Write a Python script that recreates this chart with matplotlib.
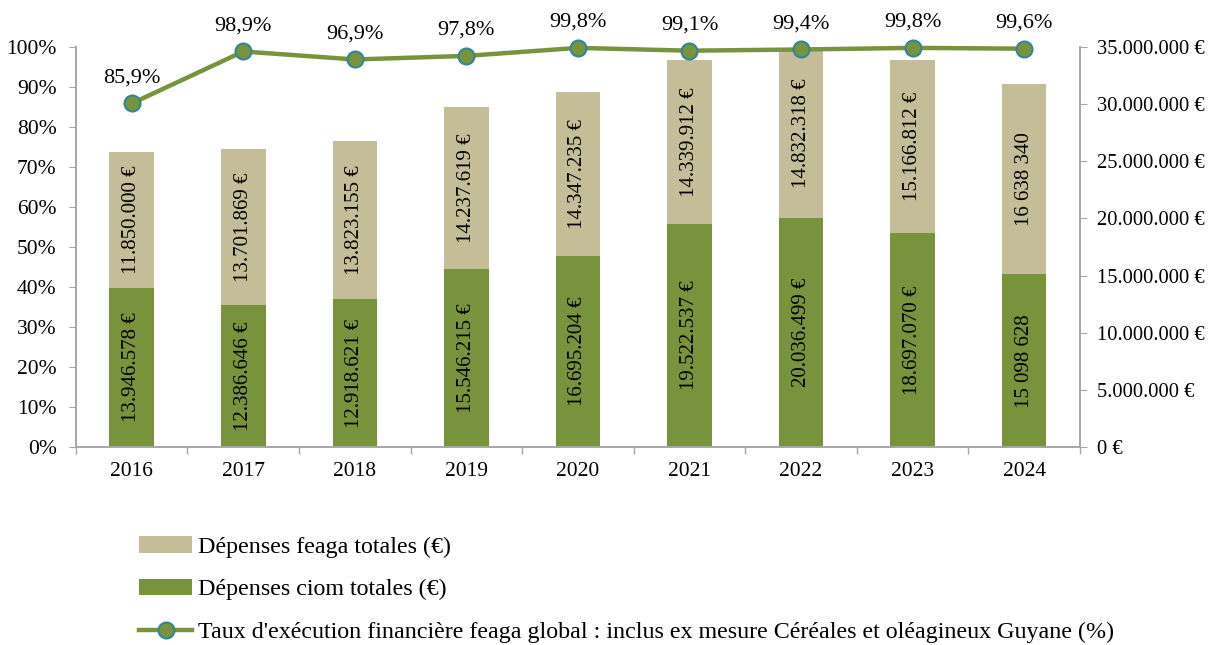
import matplotlib
matplotlib.use("Agg")
import matplotlib.pyplot as plt
from matplotlib.ticker import FuncFormatter, FixedLocator, NullFormatter

plt.rcParams['font.family'] = ['Liberation Serif', 'DejaVu Serif']

# Data
years = ['2016', '2017', '2018', '2019', '2020', '2021', '2022', '2023', '2024']
ciom = [13946578, 12386646, 12918621, 15546215, 16695204, 19522537, 20036499, 18697070, 15098628]
feaga = [11850000, 13701869, 13823155, 14237619, 14347235, 14339912, 14832318, 15166812, 16638340]
ciom_labels = ['13.946.578 €', '12.386.646 €', '12.918.621 €', '15.546.215 €', '16.695.204 €',
               '19.522.537 €', '20.036.499 €', '18.697.070 €', '15 098 628']
feaga_labels = ['11.850.000 €', '13.701.869 €', '13.823.155 €', '14.237.619 €', '14.347.235 €',
                '14.339.912 €', '14.832.318 €', '15.166.812 €', '16 638 340']
taux = [85.9, 98.9, 96.9, 97.8, 99.8, 99.1, 99.4, 99.8, 99.6]

green = '#77933C'
tan = '#C4BD97'
grey = '#A6A6A6'

fig = plt.figure(figsize=(12.23, 6.45), dpi=100)
ax = fig.add_axes([0.0621, 0.307, 0.8209, 0.620])
ax2 = ax.twinx()

x = list(range(len(years)))

# Bars on the secondary (euro) axis
b1 = ax2.bar(x, ciom, width=0.40, color=green, label='Dépenses ciom totales (€)', zorder=2)
b2 = ax2.bar(x, feaga, width=0.40, bottom=ciom, color=tan, label='Dépenses feaga totales (€)', zorder=2)
for i in x:
    ax2.text(i, ciom[i] / 2, ciom_labels[i], rotation=90, ha='center', va='center', fontsize=15)
    ax2.text(i, ciom[i] + feaga[i] / 2, feaga_labels[i], rotation=90, ha='center', va='center', fontsize=15)
ax2.set_ylim(0, 35000000)
ax2.yaxis.set_major_locator(FixedLocator(range(0, 35000001, 5000000)))
ax2.yaxis.set_major_formatter(FuncFormatter(lambda v, p: '{:,.0f} €'.format(v).replace(',', '.')))

# Line on the primary (%) axis, drawn above the bars
ax.set_zorder(ax2.get_zorder() + 1)
ax.patch.set_visible(False)
ln, = ax.plot(x, taux, color=green, lw=3.2, marker='o', markersize=11.5,
              markerfacecolor=green, markeredgecolor='#31859C', markeredgewidth=1.5,
              label="Taux d'exécution financière feaga global : inclus ex mesure Céréales et oléagineux Guyane (%)",
              zorder=5, clip_on=False)
for i in x:
    ax.text(i, taux[i] + 4.0, '{:.1f}%'.format(taux[i]).replace('.', ','), ha='center', va='bottom', fontsize=16)
ax.set_ylim(0, 100)
ax.yaxis.set_major_locator(FixedLocator(range(0, 101, 10)))
ax.yaxis.set_major_formatter(FuncFormatter(lambda v, p: '{:.0f}%'.format(v)))

ax.set_xlim(-0.5, len(years) - 0.5)
ax.set_xticks(x)
ax.set_xticklabels(years)
ax.set_xticks([i - 0.5 for i in range(len(years) + 1)], minor=True)
ax.tick_params(axis='x', which='major', length=0, labelsize=15.5, pad=11)
ax.tick_params(axis='x', which='minor', length=5, color=grey, width=1)
ax.xaxis.set_minor_formatter(NullFormatter())
ax.tick_params(axis='y', length=5, color=grey, labelsize=15.5, pad=9)
ax2.tick_params(axis='y', length=5, color=grey, labelsize=14.8, pad=7)

for a in (ax, ax2):
    a.spines['top'].set_visible(False)
    for s in ('left', 'right', 'bottom'):
        a.spines[s].set_color(grey)
        a.spines[s].set_linewidth(1.2)

fig.legend([b2, b1, ln], [b2.get_label(), b1.get_label(), ln.get_label()],
           loc='upper left', bbox_to_anchor=(0.106, 0.184), frameon=False,
           fontsize=17.3, handlelength=2.2, handletextpad=0.25, labelspacing=0.87,
           borderaxespad=0)

fig.savefig('out.png', dpi=100)
